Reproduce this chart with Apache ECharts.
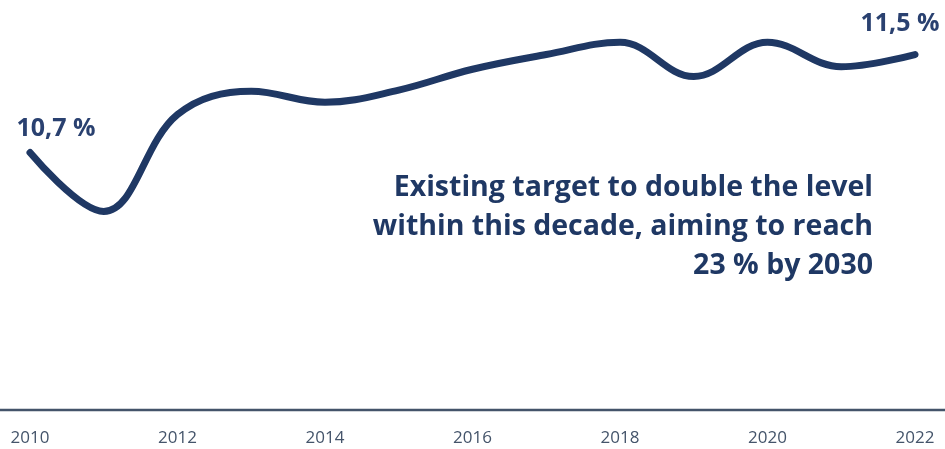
<!DOCTYPE html>
<html>
<head>
<meta charset="utf-8">
<script src="https://cdn.jsdelivr.net/npm/echarts@6/dist/echarts.min.js"></script>
<style>html,body{margin:0;padding:0;background:#fff}#c{width:945px;height:449px}</style>
</head>
<body>
<div id="c"></div>
<script>
const years = ['2010','2011','2012','2013','2014','2015','2016','2017','2018','2019','2020','2021','2022'];
const shareValues = [10.7, 10.22, 11.01, 11.2, 11.11, 11.21, 11.38, 11.5, 11.6, 11.32, 11.6, 11.4, 11.5];
const endLabels = {0: '10,7 %', 12: '11,5 %'};
const annotationLines = ['Existing target to double the level', 'within this decade, aiming to reach', '23 % by 2030'];

const navy = '#1f3864';
const chart = echarts.init(document.getElementById('c'), null, {renderer: 'canvas'});
chart.setOption({
  animation: false,
  grid: {left: 30, right: 30, top: 30, bottom: 39},
  xAxis: {
    type: 'category',
    data: years,
    boundaryGap: false,
    axisLine: {show: false},
    axisTick: {show: false},
    axisLabel: {interval: 1, color: '#44546a', fontFamily: 'Open Sans', fontSize: 17, margin: 20}
  },
  yAxis: {
    type: 'value', min: 8.6, max: 11.7, show: false
  },
  series: [{
    type: 'line',
    data: shareValues,
    smooth: 0.38,
    symbol: 'none',
    lineStyle: {color: navy, width: 7, cap: 'round', join: 'round'}
  }, {
    type: 'scatter',
    data: shareValues.map((v, i) => endLabels[i] ? {value: v, label: {show: true, formatter: endLabels[i], offset: i === 0 ? [26, -6] : [-15, -13]}} : {value: v, label: {show: false}}),
    symbolSize: 0,
    itemStyle: {opacity: 1, color: navy},
    label: {position: 'top', color: '#2a4170', fontFamily: 'Open Sans', fontWeight: 'bold', fontSize: 25},
    silent: true
  }]
});
const yAxisPix = chart.convertToPixel({yAxisIndex: 0}, 8.6);
const textFont = 'bold 28.5px "Open Sans"';
chart.setOption({
  graphic: [
    {type: 'line', shape: {x1: 0, y1: yAxisPix, x2: 945, y2: yAxisPix}, style: {stroke: '#44546a', lineWidth: 2.5}, silent: true}
  ].concat(annotationLines.map((t, i) => ({
    type: 'text', right: 72, top: 173 + i * 39, style: {text: t, fill: navy, font: textFont}
  })))
});
</script>
</body>
</html>
